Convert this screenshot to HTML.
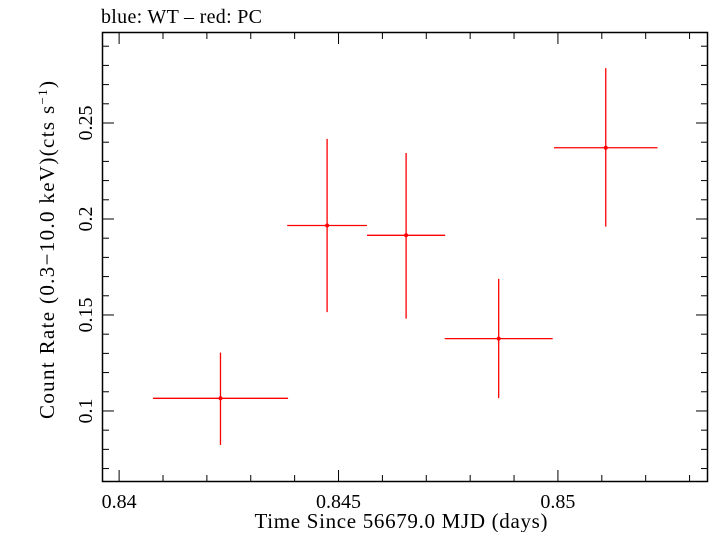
<!DOCTYPE html>
<html><head><meta charset="utf-8"><style>
body{margin:0;background:#fff;}
svg text{font-family:"Liberation Serif",serif;fill:#000;}
</style></head><body>
<svg id="c" width="709" height="532" xmlns="http://www.w3.org/2000/svg">
<text x="101" y="23" font-size="20" textLength="161">blue: WT – red: PC</text>
<rect x="102.5" y="32.5" width="605" height="449" fill="none" stroke="#000" stroke-width="1.5"/>
<g id="axes"></g><g id="marks"></g>
<text x="401" y="528" font-size="21" text-anchor="middle" textLength="293">Time Since 56679.0 MJD (days)</text>
<text transform="translate(54,250) rotate(-90)" font-size="21" text-anchor="middle" textLength="338">Count Rate (0.3−10.0 keV)(cts s<tspan baseline-shift="super" font-size="13">−1</tspan>)</text>
</svg>
<script>
const xVals=[0.84231,0.84474,0.84654,0.84865,0.85109];
const xErr=[0.00154,0.00091,0.00089,0.00123,0.00118];
const yVals=[0.1066,0.1966,0.1915,0.1377,0.2371];
const yUp=[0.1304,0.2417,0.2344,0.1688,0.2786];
const yLo=[0.0823,0.1515,0.1481,0.1067,0.1960];
const xTicks=[0.84,0.845,0.85];
const xTickLabels=["0.84","0.845","0.85"];
const yTicks=[0.1,0.15,0.2,0.25];
const yTickLabels=["0.1","0.15","0.2","0.25"];
const L=102,R=708,T=32,B=482,X0=0.83961,X1=0.85342,Y0=0.063,Y1=0.2974;
const sx=v=>L+(v-X0)/(X1-X0)*(R-L);
const sy=v=>B-(v-Y0)/(Y1-Y0)*(B-T);
const NS="http://www.w3.org/2000/svg";
function mk(t,a,p){const e=document.createElementNS(NS,t);for(const k in a)e.setAttribute(k,a[k]);p.appendChild(e);return e;}
const ax=document.getElementById('axes'),mg=document.getElementById('marks');
for(let i=0;i<=14;i++){const v=0.839+i*0.001;if(v<X0||v>X1)continue;const x=sx(v);const major=Math.abs(Math.round(v*200)-v*200)<1e-6;const len=major?12:7;
const t1=mk('line',{x1:x,x2:x,y1:B,y2:B-len,stroke:'#000','stroke-width':1},ax);

const t2=mk('line',{x1:x,x2:x,y1:T,y2:T+len,stroke:'#000','stroke-width':1},ax);
}
xTicks.forEach((v,i)=>{const t=mk('text',{x:sx(v),y:508,'font-size':20,'text-anchor':'middle'},ax);t.textContent=xTickLabels[i];
});
for(let i=0;i<=30;i++){const v=0.06+i*0.01;if(v<Y0||v>Y1)continue;const y=sy(v);const major=Math.abs(Math.round(v*20)-v*20)<1e-6;const len=major?12:7;
const t1=mk('line',{x1:L,x2:L+len,y1:y,y2:y,stroke:'#000','stroke-width':1},ax);

const t2=mk('line',{x1:R,x2:R-len,y1:y,y2:y,stroke:'#000','stroke-width':1},ax);
}
yTicks.forEach((v,i)=>{const t=mk('text',{transform:`translate(92,${sy(v)}) rotate(-90)`,'font-size':20,'text-anchor':'middle'},ax);t.textContent=yTickLabels[i];
});
xVals.forEach((v,i)=>{const g=mk('g',{},mg);

mk('line',{x1:sx(v-xErr[i]),x2:sx(v+xErr[i]),y1:sy(yVals[i]),y2:sy(yVals[i]),stroke:'#f00','stroke-width':1.3},g);
mk('line',{x1:sx(v),x2:sx(v),y1:sy(yUp[i]),y2:sy(yLo[i]),stroke:'#f00','stroke-width':1.3},g);
mk('circle',{cx:sx(v),cy:sy(yVals[i]),r:2,fill:'#f00'},g);});
</script>
</body></html>
